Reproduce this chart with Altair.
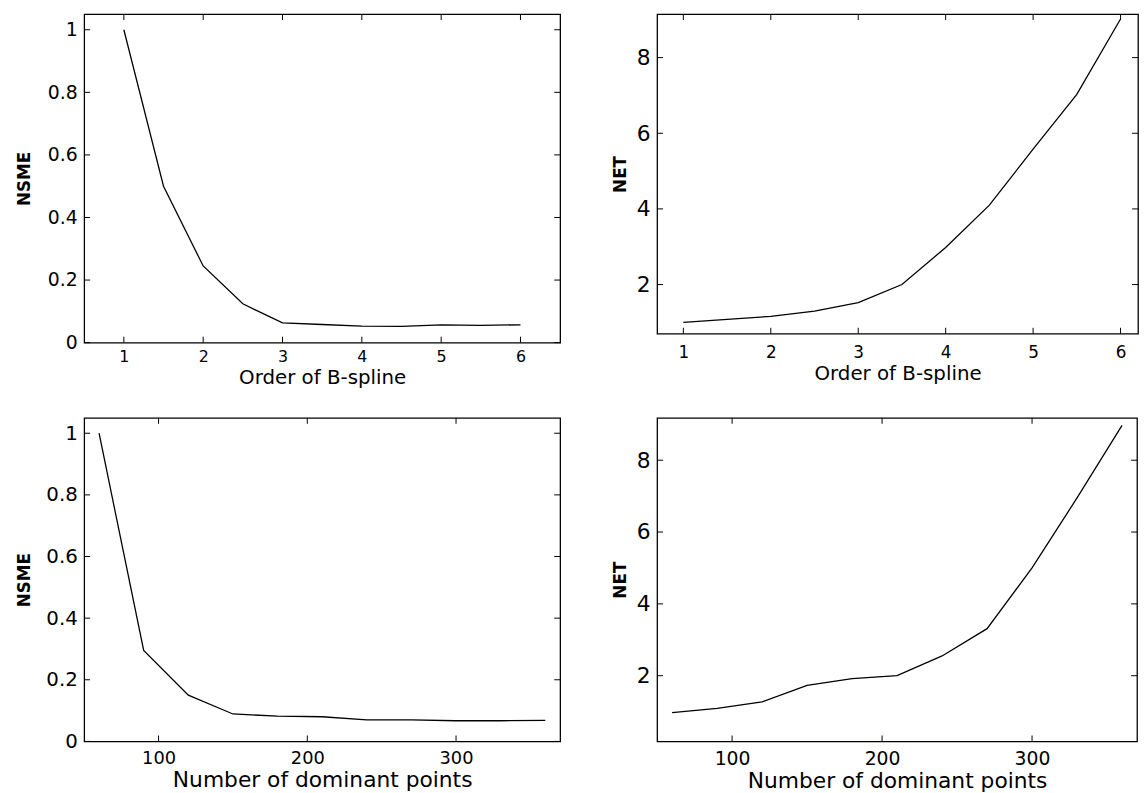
import altair as alt
import pandas as pd

# ---- data ----
order = [1, 1.5, 2, 2.5, 3, 3.5, 4, 4.5, 5, 5.5, 6]
nsme_order = [1.0, 0.50, 0.245, 0.124, 0.063, 0.058, 0.053, 0.052, 0.057, 0.055, 0.057]
net_order = [1.0, 1.08, 1.16, 1.30, 1.52, 2.0, 2.98, 4.1, 5.58, 7.03, 9.02]

points = [60, 90, 120, 150, 180, 210, 240, 270, 300, 330, 360]
nsme_points = [1.0, 0.295, 0.15, 0.089, 0.082, 0.08, 0.07, 0.07, 0.067, 0.067, 0.068]
net_points = [0.97, 1.09, 1.27, 1.73, 1.92, 2.0, 2.55, 3.31, 5.0, 6.95, 8.97]

order_ticks = [1, 2, 3, 4, 5, 6]
points_ticks = [100, 200, 300]
nsme_ticks = [0, 0.2, 0.4, 0.6, 0.8, 1.0]
net_ticks = [2, 4, 6, 8]

FONT = "DejaVu Sans"
TL = 6  # inward tick length (px)


def panel(xs, ys, xticks, yticks, xdom, ydom, W, H, xtitle, ytitle, yfmt,
          xlab, xtit, ylab, ytit, yext, ytpad, xlpad, xtpad):
    df = pd.DataFrame({"x": xs, "y": ys})
    xs_ = alt.Scale(domain=xdom, nice=False, zero=False)
    ys_ = alt.Scale(domain=ydom, nice=False, zero=False)
    xax = alt.Axis(values=xticks, title=xtitle, format="d", tickSize=0,
                   domain=False, grid=False, labelFontSize=xlab,
                   titleFontSize=xtit, labelPadding=xlpad,
                   titlePadding=xtpad, labelFont=FONT, titleFont=FONT,
                   labelColor="black", titleColor="black",
                   titleFontWeight="normal")
    yax = alt.Axis(values=yticks, title=ytitle, format=yfmt, tickSize=0,
                   domain=False, grid=False, labelFontSize=ylab,
                   titleFontSize=ytit, labelPadding=7,
                   minExtent=yext, maxExtent=yext, titlePadding=ytpad,
                   labelFont=FONT, titleFont=FONT,
                   labelColor="black", titleColor="black",
                   titleFontWeight="bold")
    line = alt.Chart(df).mark_line(color="black", strokeWidth=1.3).encode(
        x=alt.X("x:Q", scale=xs_, axis=xax),
        y=alt.Y("y:Q", scale=ys_, axis=yax),
    )
    dx = pd.DataFrame({"x": xticks})
    dy = pd.DataFrame({"y": yticks})
    tb = alt.Chart(dx).mark_rule(color="black", strokeWidth=1).encode(
        x=alt.X("x:Q", scale=xs_, axis=xax), y=alt.value(H), y2=alt.value(H - TL))
    tt = alt.Chart(dx).mark_rule(color="black", strokeWidth=1).encode(
        x=alt.X("x:Q", scale=xs_, axis=xax), y=alt.value(0), y2=alt.value(TL))
    tlft = alt.Chart(dy).mark_rule(color="black", strokeWidth=1).encode(
        y=alt.Y("y:Q", scale=ys_, axis=yax), x=alt.value(0), x2=alt.value(TL))
    trgt = alt.Chart(dy).mark_rule(color="black", strokeWidth=1).encode(
        y=alt.Y("y:Q", scale=ys_, axis=yax), x=alt.value(W - TL), x2=alt.value(W))
    return alt.layer(line, tb, tt, tlft, trgt).properties(width=W, height=H)


p1 = panel(order, nsme_order, order_ticks, nsme_ticks, [0.5, 6.5], [0, 1.05],
           481, 332, "Order of B-spline", "NSME", ".1~f",
           16, 20, 19, 17, 40, 11, 6, 3)
p2 = panel(order, net_order, order_ticks, net_ticks, [0.7, 6.2], [0.7, 9.15],
           486, 323, "Order of B-spline", "NET", "d",
           17, 20, 22, 17, 22, 6, 11, 3)
p3 = panel(points, nsme_points, points_ticks, nsme_ticks, [50, 370], [0, 1.05],
           481, 327, "Number of dominant points", "NSME", ".1~f",
           18, 22, 20, 17, 40, 11, 8, 3)
p4 = panel(points, net_points, points_ticks, net_ticks, [50, 370], [0.17, 9.18],
           485, 327, "Number of dominant points", "NET", "d",
           19, 22, 22, 17, 22, 6, 8, 3)

row1 = alt.hconcat(p1, p2, spacing=49)
row2 = alt.hconcat(p3, p4, spacing=49)

chart = alt.vconcat(row1, row2, spacing=28).properties(
    padding={"left": 7, "top": 0, "right": 0, "bottom": 0},
    background="white",
).configure_view(stroke="black", strokeWidth=1.3)

chart.save("out.html", embed_options={"renderer": "svg", "actions": False})
